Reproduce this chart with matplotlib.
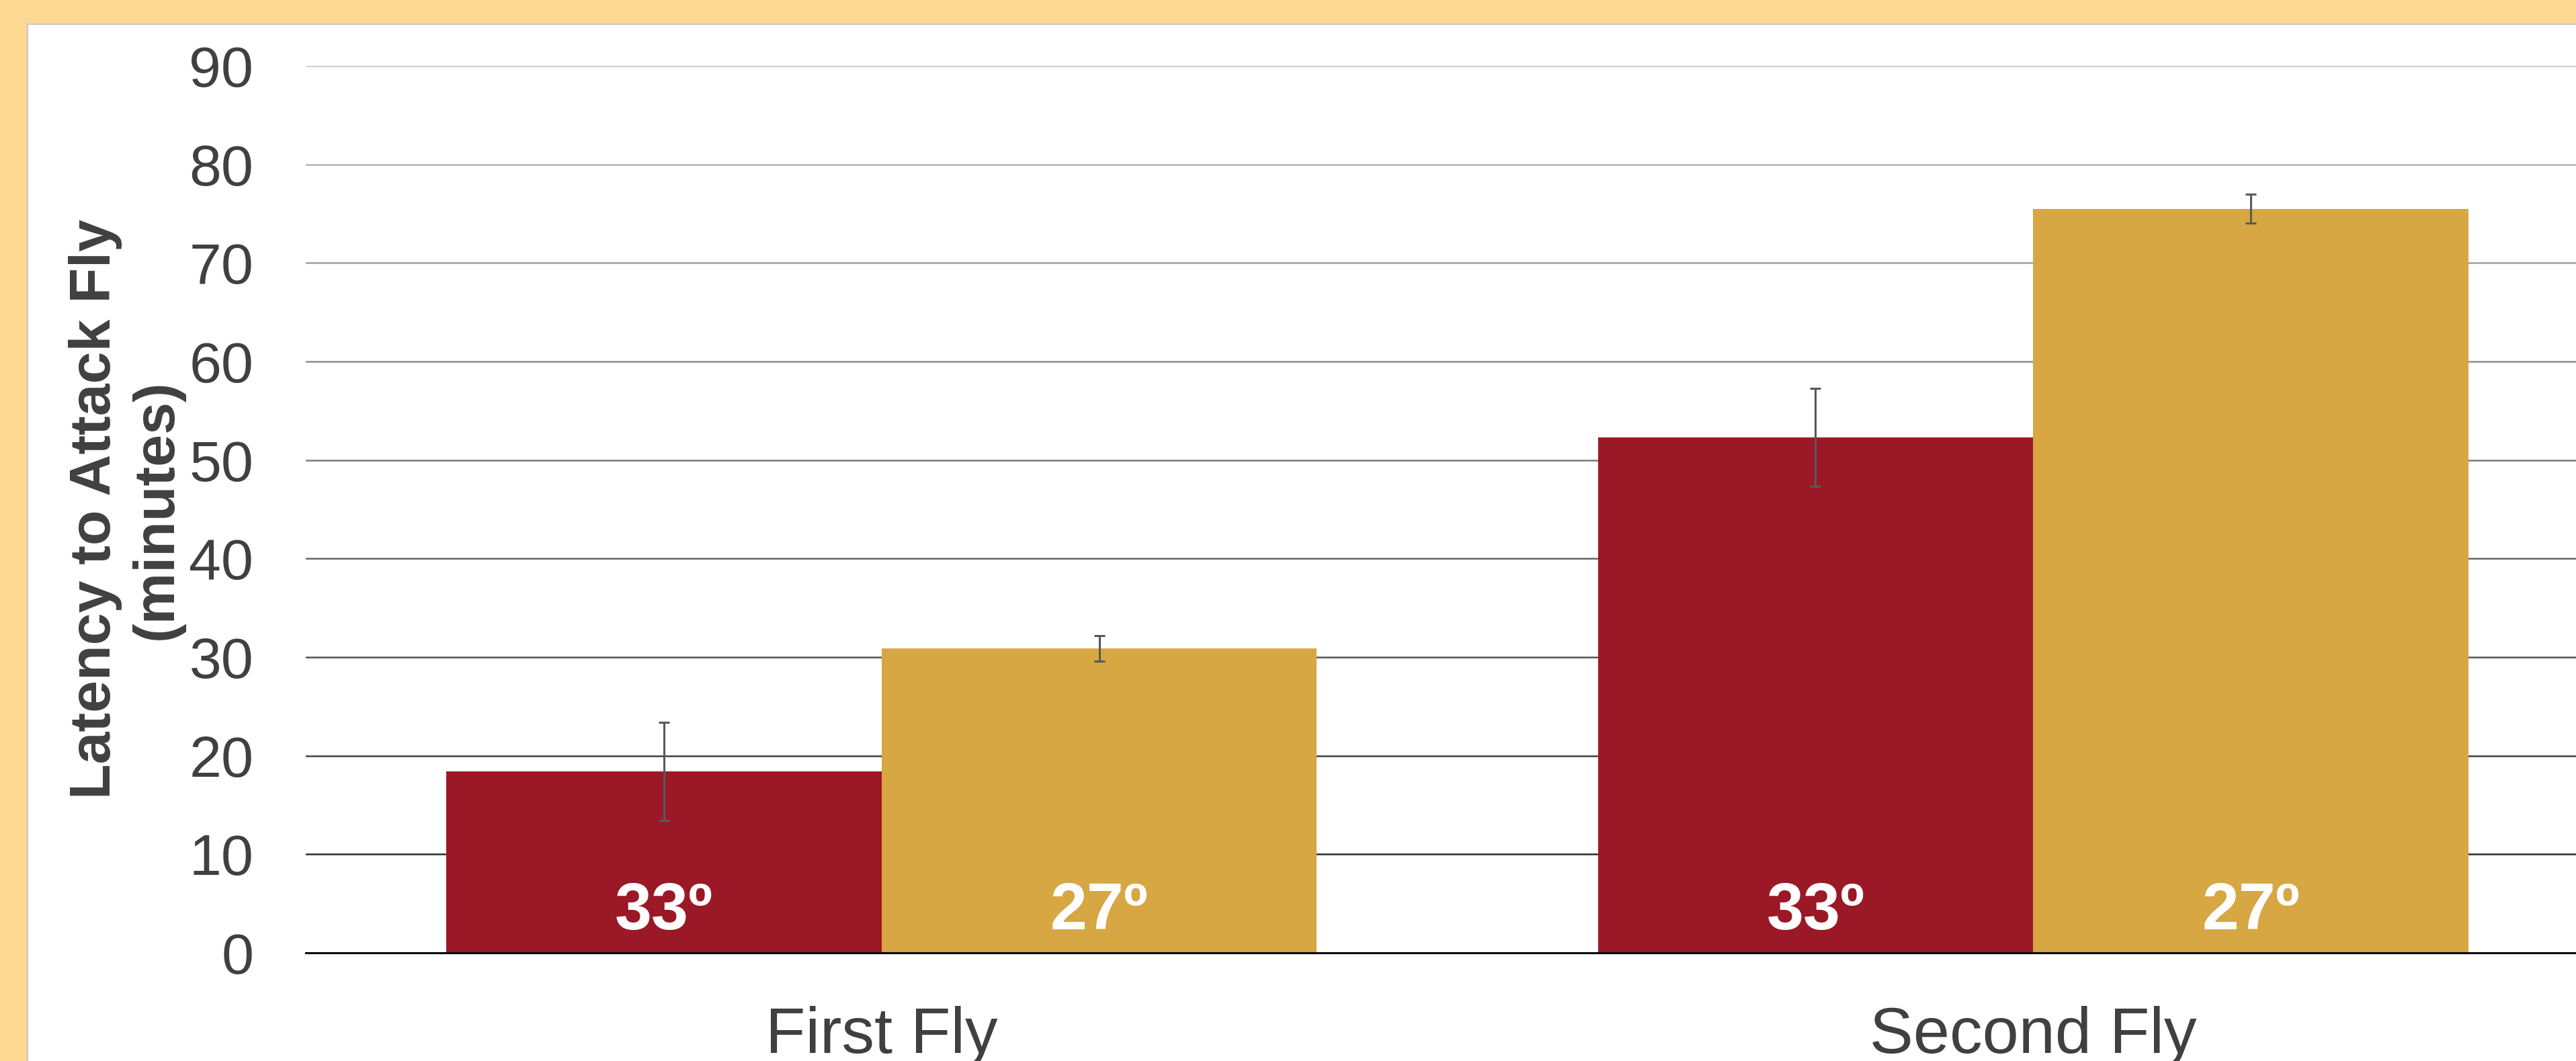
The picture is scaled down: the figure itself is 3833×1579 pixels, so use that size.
import matplotlib

matplotlib.use("Agg")

import matplotlib.pyplot as plt  # noqa: E402
import numpy as np  # noqa: E402
from matplotlib.colors import to_rgb  # noqa: E402
from matplotlib.patches import Rectangle  # noqa: E402

plt.rcParams["font.family"] = ["Liberation Sans", "DejaVu Sans"]

# data
groups = ["First Fly", "Second Fly"]
temps = ["33º", "27º"]
latency_33 = [18.4, 52.3]
latency_33_err = [5.0, 5.0]
latency_27 = [30.9, 75.5]
latency_27_err = [1.3, 1.45]
yticks = [0, 10, 20, 30, 40, 50, 60, 70, 80, 90]

RED = "#9B1826"
GOLD = "#D6A743"
TEXT = "#404040"
W, H = 3833, 1579

fig = plt.figure(figsize=(W / 100, H / 100), dpi=100)
fig.patch.set_facecolor("#FDD994")

# white slide panel inside the orange frame
panel = Rectangle((41 / W, -0.1), 1.2, 1 - 36 / H + 0.1, transform=fig.transFigure,
                  facecolor="white", edgecolor="#c8c8c8", linewidth=1.5, zorder=-10)
fig.patches.append(panel)

left, right = 455 / W, 3882 / W
bottom, top = (H - 1418) / H, (H - 98) / H
ax = fig.add_axes([left, bottom, right - left, top - bottom])
ax.set_facecolor("none")

x = np.arange(len(groups))
width = 0.378
err_style = dict(ecolor="#595959", elinewidth=2.2, capsize=6, capthick=2.2)
ax.bar(x - width / 2, latency_33, width, color=RED, yerr=latency_33_err,
       error_kw=err_style, zorder=3)
ax.bar(x + width / 2, latency_27, width, color=GOLD, yerr=latency_27_err,
       error_kw=err_style, zorder=3)

for xi in x:
    ax.text(xi - width / 2, 2.4, temps[0], ha="center", va="baseline",
            color="white", fontsize=71, fontweight="bold", zorder=4)
    ax.text(xi + width / 2, 2.4, temps[1], ha="center", va="baseline",
            color="white", fontsize=71, fontweight="bold", zorder=4)

ax.set_xlim(-0.5, 1.5)
ax.set_ylim(0, 90)
ax.set_yticks(yticks)
ax.set_xticks(x)
ax.set_xticklabels(groups)
ax.tick_params(axis="y", length=0, pad=56, labelsize=62, labelcolor=TEXT)
ax.tick_params(axis="x", length=0, pad=57, labelsize=70, labelcolor=TEXT)

for side in ["left", "right", "top"]:
    ax.spines[side].set_visible(False)
ax.spines["bottom"].set_color("#0a0a0a")
ax.spines["bottom"].set_linewidth(2.2)
ax.spines["bottom"].set_zorder(5)

# gridlines fade from dark near the baseline to light grey at the top
ax.yaxis.grid(True, linewidth=1.8, zorder=1)
ax.set_axisbelow(True)
dark = np.array(to_rgb("#2a2a2a"))
light = np.array(to_rgb("#c8c8c8"))
for val, line in zip(yticks, ax.yaxis.get_gridlines()):
    t = (val - 10) / 80 if val >= 10 else 0
    line.set_color(tuple(dark + (light - dark) * t))

ax.set_ylabel("Latency to Attack Fly\n(minutes)", fontsize=62, fontweight="bold",
              color=TEXT, ha="center", va="center")
ax.yaxis.set_label_coords(-0.0779, 0.5)

fig.savefig("out.png", dpi=100, facecolor=fig.get_facecolor())
